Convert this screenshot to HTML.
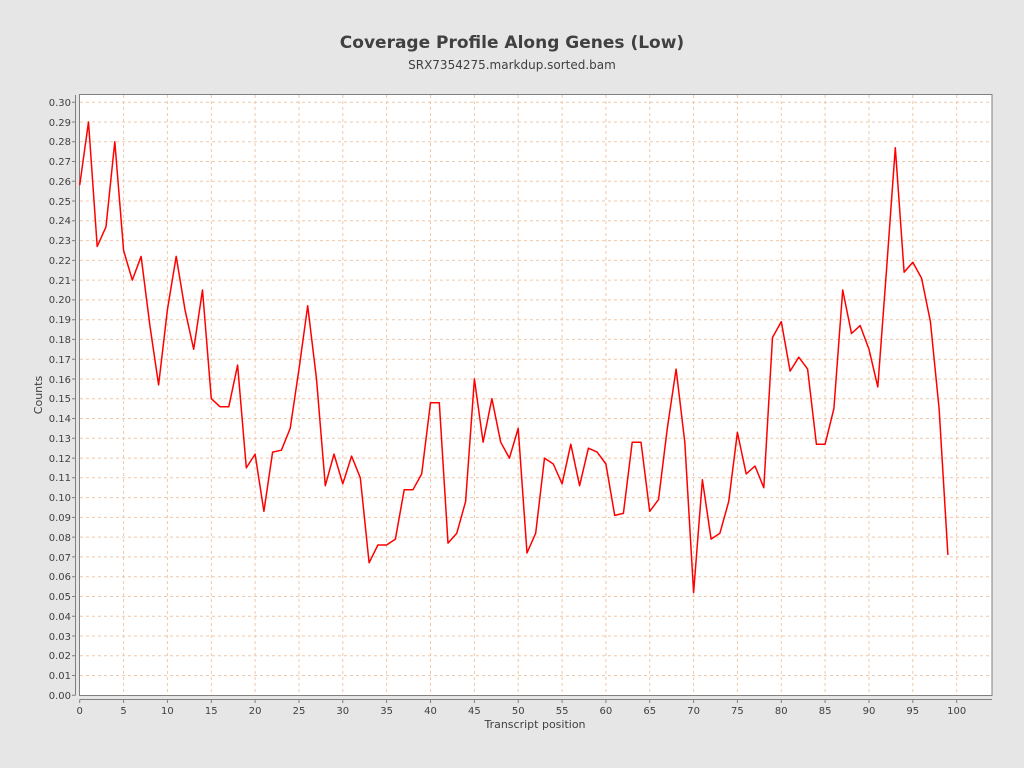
<!DOCTYPE html>
<html><head><meta charset="utf-8"><style>
html,body{margin:0;padding:0;background:#e6e6e6;}
svg{display:block;font-family:"DejaVu Sans","Liberation Sans",sans-serif;}
</style></head><body>
<svg width="1024" height="768" xmlns="http://www.w3.org/2000/svg">
<rect width="1024" height="768" fill="#e6e6e6"/>
<text x="512" y="48" text-anchor="middle" font-size="17" font-weight="bold" fill="#404040">Coverage Profile Along Genes (Low)</text>
<text x="512" y="69" text-anchor="middle" font-size="12" fill="#404040">SRX7354275.markdup.sorted.bam</text>
<rect x="79.5" y="94.5" width="912.5" height="601" fill="#fff" stroke="#808080"/>
<g stroke="#f0c8a8" stroke-width="1" stroke-dasharray="3,3">
<path d="M80 675.5H992M80 655.8H992M80 636H992M80 616.2H992M80 596.5H992M80 576.7H992M80 556.9H992M80 537.1H992M80 517.4H992M80 497.6H992M80 477.8H992M80 458.1H992M80 438.3H992M80 418.5H992M80 398.7H992M80 379H992M80 359.2H992M80 339.4H992M80 319.7H992M80 299.9H992M80 280.1H992M80 260.4H992M80 240.6H992M80 220.8H992M80 201H992M80 181.3H992M80 161.5H992M80 141.7H992M80 122H992M80 102.2H992"/>
<path d="M123.6 95V695M167.4 95V695M211.3 95V695M255.1 95V695M299 95V695M342.8 95V695M386.6 95V695M430.5 95V695M474.4 95V695M518.2 95V695M562.1 95V695M605.9 95V695M649.7 95V695M693.6 95V695M737.4 95V695M781.3 95V695M825.1 95V695M869 95V695M912.8 95V695M956.7 95V695"/>
</g>
<g stroke="#808080" fill="none">
<path d="M75.5 95V695.5"/>
<path d="M79.5 699.5H992"/>
<path d="M72 695.3H75M72 675.5H75M72 655.8H75M72 636H75M72 616.2H75M72 596.5H75M72 576.7H75M72 556.9H75M72 537.1H75M72 517.4H75M72 497.6H75M72 477.8H75M72 458.1H75M72 438.3H75M72 418.5H75M72 398.7H75M72 379H75M72 359.2H75M72 339.4H75M72 319.7H75M72 299.9H75M72 280.1H75M72 260.4H75M72 240.6H75M72 220.8H75M72 201H75M72 181.3H75M72 161.5H75M72 141.7H75M72 122H75M72 102.2H75"/>
<path d="M79.7 700V703M123.6 700V703M167.4 700V703M211.3 700V703M255.1 700V703M299 700V703M342.8 700V703M386.6 700V703M430.5 700V703M474.4 700V703M518.2 700V703M562.1 700V703M605.9 700V703M649.7 700V703M693.6 700V703M737.4 700V703M781.3 700V703M825.1 700V703M869 700V703M912.8 700V703M956.7 700V703"/>
</g>
<g font-size="10" fill="#404040" text-anchor="end">
<text x="71" y="699">0.00</text><text x="71" y="679">0.01</text><text x="71" y="659">0.02</text><text x="71" y="640">0.03</text><text x="71" y="620">0.04</text><text x="71" y="600">0.05</text><text x="71" y="580">0.06</text><text x="71" y="561">0.07</text><text x="71" y="541">0.08</text><text x="71" y="521">0.09</text><text x="71" y="501">0.10</text><text x="71" y="481">0.11</text><text x="71" y="462">0.12</text><text x="71" y="442">0.13</text><text x="71" y="422">0.14</text><text x="71" y="402">0.15</text><text x="71" y="383">0.16</text><text x="71" y="363">0.17</text><text x="71" y="343">0.18</text><text x="71" y="323">0.19</text><text x="71" y="303">0.20</text><text x="71" y="284">0.21</text><text x="71" y="264">0.22</text><text x="71" y="244">0.23</text><text x="71" y="224">0.24</text><text x="71" y="205">0.25</text><text x="71" y="185">0.26</text><text x="71" y="165">0.27</text><text x="71" y="145">0.28</text><text x="71" y="126">0.29</text><text x="71" y="106">0.30</text>
</g>
<g font-size="10" fill="#404040" text-anchor="middle">
<text x="79.7" y="714">0</text><text x="123.6" y="714">5</text><text x="167.4" y="714">10</text><text x="211.3" y="714">15</text><text x="255.1" y="714">20</text><text x="299" y="714">25</text><text x="342.8" y="714">30</text><text x="386.6" y="714">35</text><text x="430.5" y="714">40</text><text x="474.4" y="714">45</text><text x="518.2" y="714">50</text><text x="562.1" y="714">55</text><text x="605.9" y="714">60</text><text x="649.7" y="714">65</text><text x="693.6" y="714">70</text><text x="737.4" y="714">75</text><text x="781.3" y="714">80</text><text x="825.1" y="714">85</text><text x="869" y="714">90</text><text x="912.8" y="714">95</text><text x="956.7" y="714">100</text>
</g>
<text x="535" y="728" text-anchor="middle" font-size="11" fill="#404040">Transcript position</text>
<text x="42" y="395" text-anchor="middle" font-size="11" fill="#404040" transform="rotate(-90 42 395)">Counts</text>
<polyline fill="none" stroke="#ff0000" stroke-width="1.5" stroke-linejoin="round" points="79.7,185.2 88.5,122 97.2,246.5 106,226.8 114.8,141.7 123.6,250.5 132.3,280.1 141.1,256.4 149.9,325.6 158.6,384.9 167.4,309.8 176.2,256.4 185,309.8 193.7,349.3 202.5,290 211.3,398.7 220,406.7 228.8,406.7 237.6,365.1 246.3,467.9 255.1,454.1 263.9,511.4 272.6,452.1 281.4,450.2 290.2,428.4 299,369.1 307.7,305.8 316.5,379 325.3,485.7 334,454.1 342.8,483.8 351.6,456.1 360.3,477.8 369.1,562.8 377.9,545 386.6,545 395.4,539.1 404.2,489.7 413,489.7 421.7,473.9 430.5,402.7 439.3,402.7 448,543.1 456.8,533.2 465.6,501.6 474.4,379 483.1,442.2 491.9,398.7 500.7,442.2 509.4,458.1 518.2,428.4 527,553 535.7,533.2 544.5,458.1 553.3,464 562.1,483.8 570.8,444.2 579.6,485.7 588.4,448.2 597.1,452.1 605.9,464 614.7,515.4 623.4,513.4 632.2,442.2 641,442.2 649.7,511.4 658.5,499.6 667.3,428.4 676.1,369.1 684.8,442.2 693.6,592.5 702.4,479.8 711.1,539.1 719.9,533.2 728.7,501.6 737.4,432.4 746.2,473.9 755,466 763.8,487.7 772.5,337.5 781.3,321.6 790.1,371.1 798.8,357.2 807.6,369.1 816.4,444.2 825.1,444.2 833.9,408.6 842.7,290 851.5,333.5 860.2,325.6 869,349.3 877.8,386.9 886.5,270.2 895.3,147.7 904.1,272.2 912.8,262.3 921.6,278.2 930.4,321.6 939.1,408.6 947.9,554.9"/>
</svg>
</body></html>
